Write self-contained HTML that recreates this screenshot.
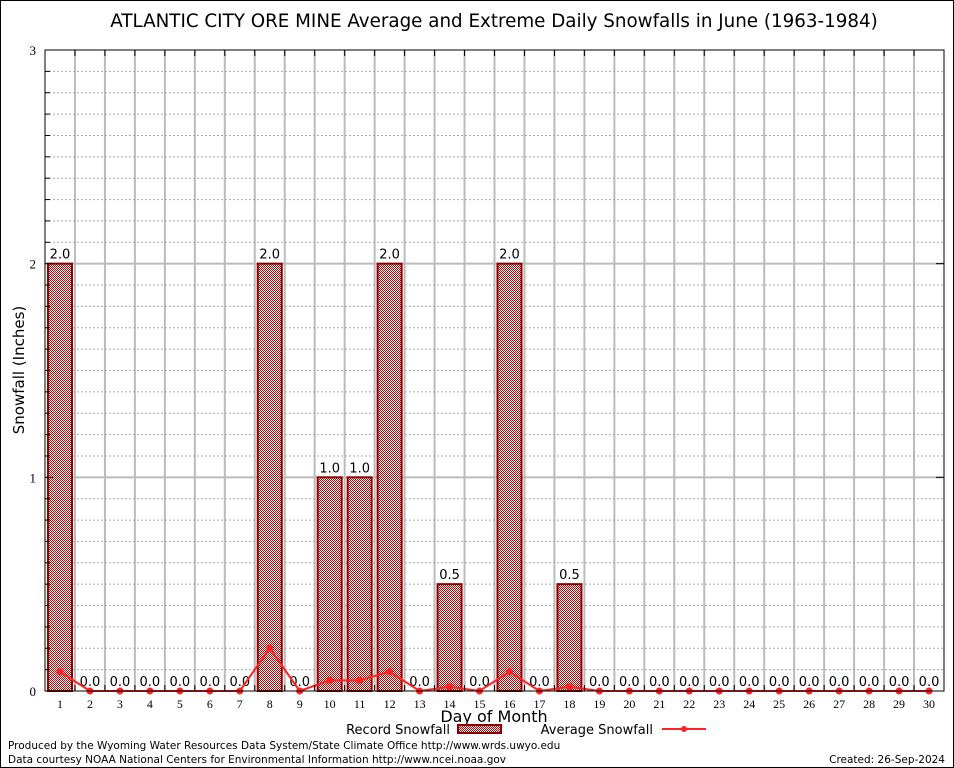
<!DOCTYPE html>
<html><head><meta charset="utf-8"><style>
body{margin:0;background:#fff}
svg{display:block;font-family:"DejaVu Sans","Liberation Sans",sans-serif}
</style></head><body>
<svg id="c" width="954" height="768" viewBox="0 0 954 768">
<defs><pattern id="chk" width="2" height="2" patternUnits="userSpaceOnUse"><rect width="2" height="2" fill="#fff"/><rect width="1" height="1" fill="#c00000"/><rect x="1" y="1" width="1" height="1" fill="#c00000"/></pattern></defs>
<rect x="0.5" y="0.5" width="953" height="767" fill="#fff" stroke="#000"/>
<text x="494" y="27" font-size="18.3" text-anchor="middle">ATLANTIC CITY ORE MINE Average and Extreme Daily Snowfalls in June (1963-1984)</text>
<g id="grid"></g><g id="bars"></g><g id="line"></g><g id="axes"></g>
<text x="24" y="370" font-size="15" text-anchor="middle" transform="rotate(-90 24 370)">Snowfall (Inches)</text>
<text x="494" y="722" font-size="16" text-anchor="middle">Day of Month</text>
<g>
<text x="450" y="734" font-size="13" text-anchor="end">Record Snowfall</text>
<rect x="458" y="725" width="43" height="8" fill="url(#chk)" stroke="#8b0000" stroke-width="2"/>
<text x="653" y="734" font-size="13" text-anchor="end">Average Snowfall</text>
<line x1="662" y1="729" x2="706" y2="729" stroke="#f22" stroke-width="2"/>
<circle cx="684" cy="729" r="3" fill="#f22"/>
</g>
<text x="8" y="749" font-size="10.5">Produced by the Wyoming Water Resources Data System/State Climate Office http://www.wrds.uwyo.edu</text>
<text x="8" y="763" font-size="10.5">Data courtesy NOAA National Centers for Environmental Information http://www.ncei.noaa.gov</text>
<text x="945" y="763" font-size="10.5" text-anchor="end">Created:  26-Sep-2024</text>
</svg>
<script>
const days=[1,2,3,4,5,6,7,8,9,10,11,12,13,14,15,16,17,18,19,20,21,22,23,24,25,26,27,28,29,30];
const recordVals=[2,0,0,0,0,0,0,2,0,1,1,2,0,0.5,0,2,0,0.5,0,0,0,0,0,0,0,0,0,0,0,0];
const avgVals=[0.09,0,0,0,0,0,0,0.2,0,0.05,0.05,0.09,0,0.02,0,0.09,0,0.02,0,0,0,0,0,0,0,0,0,0,0,0];
const yTicks=[0,1,2,3];
const L=45,R=944,T=50,B=691,ymax=3;
const cw=(R-L)/days.length;
const xc=d=>L+(d-0.5)*cw;
const y=v=>B-(v/ymax)*(B-T);
const NS="http://www.w3.org/2000/svg";
function mk(p,t,a){const e=document.createElementNS(NS,t);for(const k in a)e.setAttribute(k,a[k]);document.getElementById(p).appendChild(e);return e;}
for(let i=1;i<days.length;i++){const x=L+i*cw;const e=mk('grid','line',{x1:x,x2:x,y1:T,y2:B,stroke:'#bbb','stroke-width':2});

}
for(let k=1;k<30;k++){const v=k/10;if(k%10===0){const e=mk('grid','line',{x1:L,x2:R,y1:y(v),y2:y(v),stroke:'#bbb','stroke-width':2});

}else{const e=mk('grid','line',{x1:L,x2:R,y1:y(v),y2:y(v),stroke:'#aaa','stroke-width':1,'stroke-dasharray':'2,2'});


const t1=mk('axes','line',{x1:L,x2:L+5,y1:y(v),y2:y(v),stroke:'#000'});}}
days.forEach((d,i)=>{const v=recordVals[i];
if(v>0){const r=mk('bars','rect',{x:xc(d)-12,y:y(v),width:24,height:B-y(v),fill:'url(#chk)',stroke:'#8b0000','stroke-width':2});

}
const t=mk('bars','text',{x:xc(d),y:y(v)-5,'font-size':13,'text-anchor':'middle'});t.textContent=v.toFixed(1);

});
const pl=mk('line','polyline',{points:days.map((d,i)=>xc(d)+','+y(avgVals[i])).join(' '),fill:'none',stroke:'#f22','stroke-width':2});


days.forEach((d,i)=>{const c=mk('line','circle',{cx:xc(d),cy:y(avgVals[i]),r:3.5,fill:'#f22'});

});
const fr=mk('axes','rect',{x:L,y:T,width:R-L,height:B-T,fill:'none',stroke:'#000','stroke-width':1});


yTicks.forEach(v=>{const t=mk('axes','text',{x:L-9,y:y(v)+5,'font-size':13,'text-anchor':'end','font-family':'Liberation Serif, serif'});t.textContent=v;


const l=mk('axes','line',{x1:L,x2:L+8,y1:y(v),y2:y(v),stroke:'#000'});


const l2=mk('axes','line',{x1:R-8,x2:R,y1:y(v),y2:y(v),stroke:'#000'});

});
days.forEach(d=>{const t=mk('axes','text',{x:xc(d),y:B+17,'font-size':12,'text-anchor':'middle','font-family':'Liberation Serif, serif'});t.textContent=d;

});
for(let i=1;i<days.length;i++){const x=L+i*cw;
const a=mk('axes','line',{x1:x,x2:x,y1:B-6,y2:B,stroke:'#000'});
const b=mk('axes','line',{x1:x,x2:x,y1:T,y2:T+6,stroke:'#000'});}
</script>
</body></html>
